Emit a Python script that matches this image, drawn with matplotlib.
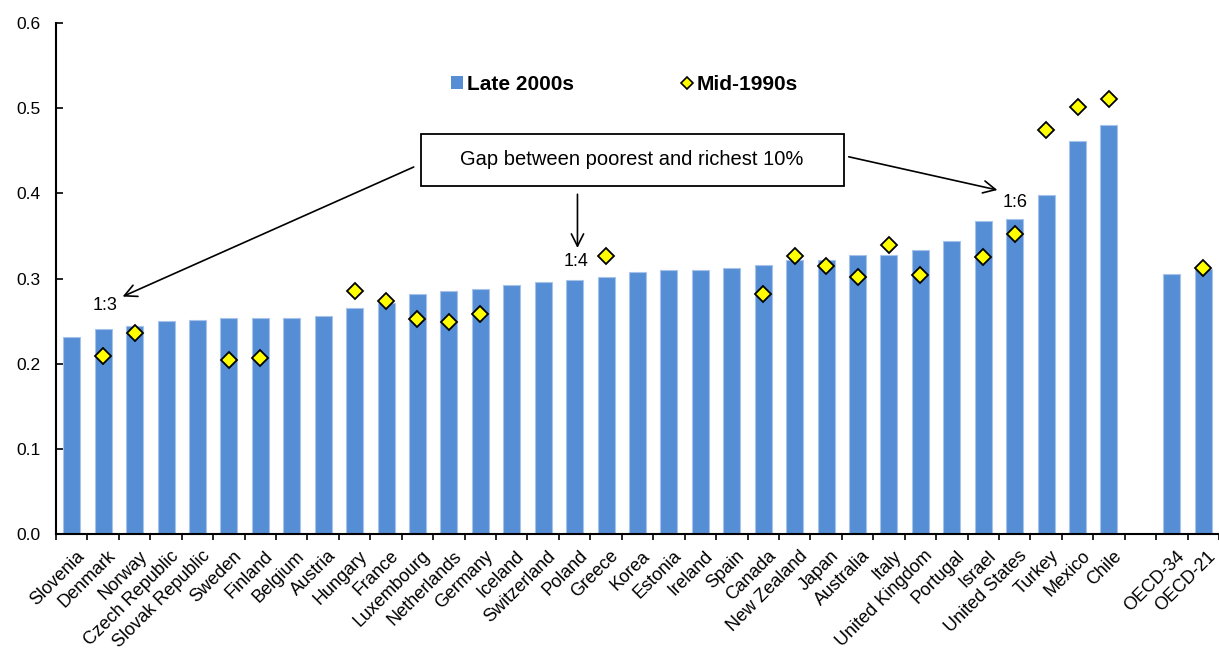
import numpy as np
import matplotlib
matplotlib.use("Agg")
import matplotlib.pyplot as plt
from matplotlib.lines import Line2D
from matplotlib.patches import Patch, Rectangle
from matplotlib.transforms import ScaledTranslation

plt.rcParams['font.family'] = ['Liberation Sans', 'DejaVu Sans']

# Income inequality (Gini) by country, plus the two OECD averages
countries = ["Slovenia", "Denmark", "Norway", "Czech Republic", "Slovak Republic",
             "Sweden", "Finland", "Belgium", "Austria", "Hungary", "France",
             "Luxembourg", "Netherlands", "Germany", "Iceland", "Switzerland",
             "Poland", "Greece", "Korea", "Estonia", "Ireland", "Spain", "Canada",
             "New Zealand", "Japan", "Australia", "Italy", "United Kingdom",
             "Portugal", "Israel", "United States", "Turkey", "Mexico", "Chile"]
averages = ["OECD-34", "OECD-21"]

late_2000s = [0.232, 0.241, 0.244, 0.250, 0.252, 0.254, 0.254, 0.254, 0.256,
              0.265, 0.272, 0.282, 0.286, 0.288, 0.292, 0.296, 0.298, 0.302,
              0.308, 0.310, 0.310, 0.312, 0.316, 0.322, 0.322, 0.328, 0.328,
              0.334, 0.344, 0.368, 0.370, 0.398, 0.462, 0.480]
late_2000s_avg = [0.306, 0.311]

nan = np.nan
mid_1990s = [nan, 0.209, 0.236, nan, nan, 0.205, 0.207, nan, nan,
             0.286, 0.274, 0.253, 0.249, 0.259, nan, nan, nan, 0.327,
             nan, nan, nan, nan, 0.282, 0.326, 0.315, 0.302, 0.339,
             0.304, nan, 0.325, 0.352, 0.474, 0.502, 0.511]
mid_1990s_avg = [nan, 0.312]

ratio_labels = ["1:3", "1:4", "1:6"]

# layout: one empty slot between the countries and the averages
x_c = np.arange(len(countries))
x_a = len(countries) + 1 + np.arange(len(averages))
x_all = np.concatenate([x_c, x_a])
labels_all = countries + averages
bars_all = late_2000s + late_2000s_avg
dots_all = mid_1990s + mid_1990s_avg

W, H = 1219, 649
fig = plt.figure(figsize=(W / 100, H / 100), dpi=100)
ax_left, ax_bottom_px, ax_top_px = 56, 534.3, 23
ax = fig.add_axes([ax_left / W, (H - ax_bottom_px) / H, (W - ax_left) / W,
                   (ax_bottom_px - ax_top_px) / H])

bar_color = "#558ED5"
ax.bar(x_all, bars_all, width=0.54, color=bar_color, edgecolor="#A8C3EA",
       linewidth=0.8, zorder=2)
ax.plot(x_all, dots_all, linestyle="none", marker="D", markersize=8,
        markerfacecolor="#FFFF00", markeredgecolor="black", markeredgewidth=1.3,
        zorder=3)

ax.set_xlim(-0.5, 36.24)
ax.set_ylim(0, 0.6)
yt = np.arange(0, 0.61, 0.1)
ax.set_yticks(yt)
ax.set_yticklabels([f"{v:.1f}" for v in yt], fontsize=12.5)

for s in ["top", "right"]:
    ax.spines[s].set_visible(False)
for s in ["left", "bottom"]:
    ax.spines[s].set_linewidth(1.5)

# tick marks between categories, labels centred under each bar
ax.set_xticks(np.arange(-0.5, 36.6, 1.0))
ax.set_xticklabels([])
ax.set_xticks(x_all, minor=True)
ax.set_xticklabels(labels_all, minor=True, fontsize=13, rotation=45,
                   ha="right", va="top", rotation_mode="anchor")
ax.tick_params(axis="x", which="major", direction="out", length=4, width=1.2)
ax.tick_params(axis="x", which="minor", length=0, pad=9.5)
ax.tick_params(axis="y", direction="in", length=5, width=1.2, pad=11)
shift = ScaledTranslation(4 / 100, 0, fig.dpi_scale_trans)
for lab in ax.get_xticklabels(minor=True):
    lab.set_transform(lab.get_transform() + shift)

# legend
handles = [Patch(facecolor=bar_color, edgecolor="none", label="Late 2000s"),
           Line2D([], [], linestyle="none", marker="D", markersize=6.5,
                  markerfacecolor="#FFFF00", markeredgecolor="black",
                  markeredgewidth=1.2, label="Mid-1990s")]
ax_w = W - ax_left
ax_h = ax_bottom_px - ax_top_px
ax.legend(handles=handles, ncol=2, frameon=False, loc="center left",
          bbox_to_anchor=((451 - ax_left) / ax_w, (ax_bottom_px - 84.5) / ax_h),
          prop={"weight": "bold", "size": 15}, borderpad=0, borderaxespad=0,
          handlelength=0.58, handleheight=0.62, handletextpad=0.2,
          columnspacing=5.1)

# annotation box with arrows to the ratio labels
box_x0, box_x1 = 11.10, 24.56
box_y0, box_y1 = 0.409, 0.470
ax.add_patch(Rectangle((box_x0, box_y0), box_x1 - box_x0, box_y1 - box_y0,
                       facecolor="white", edgecolor="black", linewidth=1.3,
                       zorder=4))
ax.text((box_x0 + box_x1) / 2, (box_y0 + box_y1) / 2,
        "Gap between poorest and richest 10%", ha="center", va="center",
        fontsize=14.5, zorder=5)

arrow_style = dict(arrowstyle="->", color="black", lw=1.2,
                   mutation_scale=22, shrinkA=0, shrinkB=0)
ax.annotate("", xy=(1.62, 0.279), xytext=(10.88, 0.431), arrowprops=arrow_style)
ax.annotate("", xy=(16.09, 0.336), xytext=(16.09, 0.399), arrowprops=arrow_style)
ax.annotate("", xy=(29.45, 0.404), xytext=(24.72, 0.443), arrowprops=arrow_style)

ratio_pos = [(1.07, 0.269), (16.06, 0.320), (30.0, 0.389)]
for txt, (px, py) in zip(ratio_labels, ratio_pos):
    ax.text(px, py, txt, ha="center", va="center", fontsize=13, zorder=5)

fig.savefig("out.png", dpi=100)
